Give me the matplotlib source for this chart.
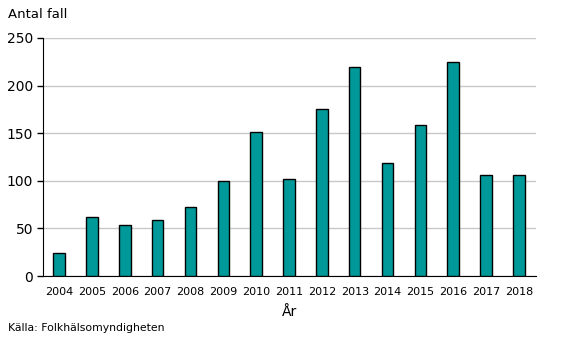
import matplotlib.pyplot as plt

years = ['2004', '2005', '2006', '2007', '2008', '2009', '2010', '2011',
         '2012', '2013', '2014', '2015', '2016', '2017', '2018']
cases = [24, 62, 54, 59, 72, 100, 151, 102, 175, 220, 119, 159, 225, 106, 106]
yticks = [0, 50, 100, 150, 200, 250]

plt.rcParams['font.family'] = ['Verdana', 'DejaVu Sans']

fig = plt.figure(figsize=(5.67, 3.41), dpi=100)
ax = fig.add_axes([43/567, 65/341, (536-43)/567, (276-38)/341])

x = range(len(years))
ax.bar(x, cases, width=0.35, color='#009999', edgecolor='black', linewidth=1, zorder=3)

ax.set_ylim(0, 250)
ax.set_xlim(-0.49, len(years) - 0.48)
ax.set_yticks(yticks)
ax.set_xticks(list(x))
ax.set_xticklabels(years)
ax.yaxis.grid(True, color='#c8c8c8', linewidth=1, zorder=0)
ax.tick_params(axis='x', length=0, labelsize=8, pad=8)
ax.tick_params(axis='y', length=4, labelsize=10, pad=3, width=1)
for s in ['top', 'right']:
    ax.spines[s].set_visible(False)
ax.spines['left'].set_color('black')
ax.spines['bottom'].set_color('black')

fig.text(8/567, 1 - 14/341, 'Antal fall', fontsize=9.5, va='center', ha='left')
fig.text(290/567, 1 - 312/341, 'År', fontsize=10, va='center', ha='center')
fig.text(8/567, 1 - 328/341, 'Källa: Folkhälsomyndigheten', fontsize=7.8, va='center', ha='left')

fig.savefig('out.png', dpi=100)
